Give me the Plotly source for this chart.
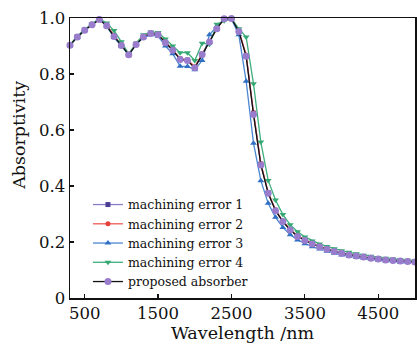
import plotly.graph_objects as go

wavelength = [300, 400, 500, 600, 700, 800, 900, 1000, 1100, 1200, 1300, 1400, 1500, 1600,
              1700, 1800, 1900, 2000, 2100, 2200, 2300, 2400, 2500, 2600, 2700, 2800, 2900,
              3000, 3100, 3200, 3300, 3400, 3500, 3600, 3700, 3800, 3900, 4000, 4100, 4200,
              4300, 4400, 4500, 4600, 4700, 4800, 4900, 5000]

proposed = [0.903, 0.932, 0.956, 0.976, 0.995, 0.972, 0.934, 0.902, 0.869, 0.905, 0.932, 0.945,
            0.940, 0.912, 0.885, 0.852, 0.848, 0.822, 0.870, 0.914, 0.962, 0.997, 0.998, 0.952,
            0.863, 0.655, 0.475, 0.374, 0.312, 0.273, 0.243, 0.220, 0.205, 0.193, 0.183, 0.174,
            0.166, 0.160, 0.154, 0.150, 0.146, 0.142, 0.139, 0.136, 0.134, 0.132, 0.130, 0.129]

error1 = [0.903, 0.933, 0.957, 0.977, 0.995, 0.974, 0.936, 0.903, 0.869, 0.906, 0.933, 0.945,
          0.941, 0.913, 0.886, 0.853, 0.849, 0.823, 0.871, 0.915, 0.963, 0.997, 0.998, 0.953,
          0.866, 0.660, 0.478, 0.376, 0.313, 0.274, 0.244, 0.221, 0.206, 0.194, 0.184, 0.175,
          0.167, 0.161, 0.155, 0.151, 0.147, 0.143, 0.140, 0.137, 0.135, 0.133, 0.131, 0.130]

error2 = [0.904, 0.933, 0.957, 0.978, 0.996, 0.976, 0.937, 0.904, 0.870, 0.906, 0.933, 0.946,
          0.941, 0.914, 0.887, 0.855, 0.851, 0.826, 0.872, 0.915, 0.963, 0.997, 0.998, 0.954,
          0.868, 0.662, 0.480, 0.377, 0.314, 0.275, 0.245, 0.222, 0.207, 0.195, 0.184, 0.175,
          0.168, 0.161, 0.155, 0.151, 0.147, 0.143, 0.140, 0.137, 0.135, 0.133, 0.131, 0.130]

error3 = [0.903, 0.932, 0.956, 0.978, 0.997, 0.970, 0.930, 0.900, 0.869, 0.905, 0.930, 0.940,
          0.935, 0.900, 0.872, 0.828, 0.827, 0.815, 0.848, 0.940, 0.970, 0.995, 0.996, 0.940,
          0.774, 0.553, 0.419, 0.338, 0.288, 0.252, 0.226, 0.207, 0.194, 0.183, 0.175, 0.167,
          0.160, 0.154, 0.149, 0.145, 0.141, 0.138, 0.135, 0.132, 0.130, 0.128, 0.127, 0.126]

error4 = [0.905, 0.935, 0.960, 0.980, 0.998, 0.982, 0.955, 0.915, 0.872, 0.910, 0.940, 0.950,
          0.948, 0.925, 0.900, 0.876, 0.876, 0.848, 0.910, 0.906, 0.978, 0.990, 0.997, 0.962,
          0.932, 0.765, 0.557, 0.420, 0.350, 0.298, 0.262, 0.237, 0.218, 0.204, 0.193, 0.184,
          0.176, 0.169, 0.163, 0.158, 0.153, 0.149, 0.145, 0.142, 0.139, 0.137, 0.135, 0.133]

y_ticks = [0, 0.2, 0.4, 0.6, 0.8, 1.0]
y_tick_labels = ["0", "0.2", "0.4", "0.6", "0.8", "1.0"]
x_ticks = [500, 1500, 2500, 3500, 4500]
x_tick_labels = ["500", "1500", "2500", "3500", "4500"]

series = [
    ("machining error 1", error1, "#8a7cc9", "#4b3d96", "square", 5),
    ("machining error 2", error2, "#ee5a55", "#e8403a", "circle", 5),
    ("machining error 3", error3, "#4a86d0", "#2f6fc4", "triangle-up", 6),
    ("machining error 4", error4, "#3fae7c", "#35a873", "triangle-down", 6),
    ("proposed absorber", proposed, "#111111", "#9a7ccc", "circle", 7),
]

FONT = "DejaVu Serif"
fig = go.Figure()
for name, vals, lc, mc, sym, ms in series:
    fig.add_trace(go.Scatter(
        x=wavelength, y=vals, name=name, mode="lines+markers",
        line=dict(color=lc, width=1.3),
        marker=dict(color=mc, symbol=sym, size=ms, line=dict(width=0)),
        cliponaxis=False,
    ))

axis_common = dict(
    showline=True, linecolor="#111111", linewidth=1.5, mirror=True,
    ticks="inside", ticklen=4, tickwidth=1.2, tickcolor="#111111",
    showgrid=False, zeroline=False,
    tickfont=dict(family=FONT, size=16.5, color="#111111"),
)

fig.update_layout(
    width=417, height=344, autosize=False,
    margin=dict(l=70, r=0, t=18, b=46, pad=0),
    paper_bgcolor="white", plot_bgcolor="white",
    hovermode=False,
    xaxis=dict(range=[300, 5000], tickvals=x_ticks, ticktext=x_tick_labels,
               title=dict(text="Wavelength /nm", font=dict(family=FONT, size=17.5, color="#111111"),
                          standoff=0),
               **axis_common),
    yaxis=dict(range=[0, 1.0], tickvals=y_ticks, ticktext=y_tick_labels, **axis_common),
    legend=dict(x=0.052, y=0.386, xanchor="left", yanchor="top",
                bgcolor="rgba(0,0,0,0)", itemwidth=30, tracegroupgap=0,
                font=dict(family=FONT, size=12.5, color="#111111")),
    showlegend=True,
    annotations=[dict(text="Absorptivity", xref="paper", yref="paper",
                      x=-0.15, y=0.58, xanchor="center", yanchor="middle",
                      textangle=-90, showarrow=False,
                      font=dict(family=FONT, size=17.5, color="#111111"))],
)

fig.write_html("out.html", config={"displayModeBar": False, "staticPlot": True},
               post_script="document.body.style.margin='0px';")
